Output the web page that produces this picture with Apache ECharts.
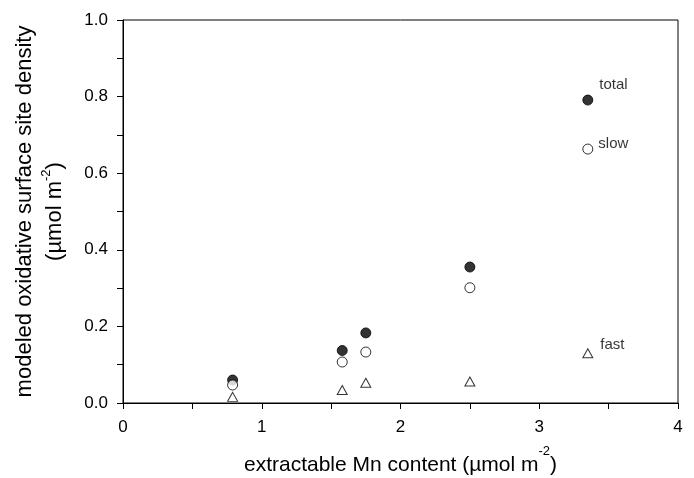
<!DOCTYPE html>
<html>
<head>
<meta charset="utf-8">
<script src="https://cdn.jsdelivr.net/npm/echarts@6/dist/echarts.min.js"></script>
<style>
  html, body { margin: 0; padding: 0; background: #fff; }
  #chart { width: 694px; height: 478px; }
</style>
</head>
<body>
<div id="chart"></div>
<script>
// extractable Mn content (umol m-2)
const mnContent = [0.79, 1.58, 1.75, 2.50, 3.35]
// modeled site densities (umol m-2)
const totalSites = [0.060, 0.137, 0.183, 0.355, 0.791]
const slowSites = [0.047, 0.107, 0.133, 0.301, 0.663]
const fastSites = [0.016, 0.034, 0.053, 0.056, 0.130]

const font = 'Liberation Sans, Arial, sans-serif'
const chart = echarts.init(document.getElementById('chart'))

const pairs = (ys) => mnContent.map((x, i) => [x, ys[i]])
const lastIdx = mnContent.length - 1

// series name shown next to the right-most point only
const endLabel = (offset) => ({
  show: true,
  position: 'right',
  offset: offset,
  color: '#000',
  fontFamily: font,
  fontSize: 15,
  formatter: (p) => p.dataIndex === lastIdx ? p.seriesName : ''
})

chart.setOption({
  animation: false,
  grid: {
    left: 123,
    right: 16,
    top: 20,
    bottom: 75,
    containLabel: false,
    outerBoundsMode: 'none',
    show: true,
    borderColor: '#000',
    borderWidth: 1
  },
  xAxis: {
    type: 'value',
    min: 0,
    max: 4,
    interval: 1,
    name: 'extractable Mn content (µmol m{sup|-2}{b|)}',
    nameLocation: 'middle',
    nameGap: 42,
    nameMoveOverlap: false,
    nameTextStyle: {
      color: '#000', fontFamily: font, fontSize: 21, lineHeight: 40,
      rich: {
        sup: { fontSize: 13, fontFamily: font, color: '#000', verticalAlign: 'top', lineHeight: 14 },
        b: { fontSize: 21, fontFamily: font, color: '#000', lineHeight: 40 }
      }
    },
    axisLine: { lineStyle: { color: '#000', width: 1 } },
    axisTick: { inside: false, length: 6, lineStyle: { color: '#000' } },
    minorTick: { show: true, splitNumber: 2, length: 6, lineStyle: { color: '#000' } },
    splitLine: { show: false },
    axisLabel: { color: '#000', fontFamily: font, fontSize: 17, margin: 16 }
  },
  yAxis: {
    type: 'value',
    min: 0,
    max: 1,
    interval: 0.2,
    name: 'modeled oxidative surface site density\n(µmol m{sup|-2}{b|)}',
    nameLocation: 'middle',
    nameRotate: 90,
    nameGap: 53,
    nameMoveOverlap: false,
    nameTextStyle: {
      color: '#000', fontFamily: font, fontSize: 22, lineHeight: 30,
      rich: {
        sup: { fontSize: 13, fontFamily: font, color: '#000', verticalAlign: 'top', lineHeight: 14 },
        b: { fontSize: 22, fontFamily: font, color: '#000', lineHeight: 30 }
      }
    },
    axisLine: { show: true, lineStyle: { color: '#000', width: 1 } },
    axisTick: { show: true, inside: false, length: 6, lineStyle: { color: '#000' } },
    minorTick: { show: true, splitNumber: 2, length: 6, lineStyle: { color: '#000' } },
    splitLine: { show: false },
    axisLabel: { color: '#000', fontFamily: font, fontSize: 17, margin: 15, formatter: (v) => v.toFixed(1) }
  },
  series: [
    {
      name: 'total',
      type: 'scatter',
      data: pairs(totalSites),
      symbol: 'circle',
      symbolSize: 10,
      itemStyle: { color: '#000', borderColor: '#000', borderWidth: 1 },
      label: endLabel([1, -15])
    },
    {
      name: 'slow',
      type: 'scatter',
      data: pairs(slowSites),
      symbol: 'circle',
      symbolSize: 10,
      itemStyle: { color: '#fff', borderColor: '#000', borderWidth: 1 },
      label: endLabel([0, -5])
    },
    {
      name: 'fast',
      type: 'scatter',
      data: pairs(fastSites),
      symbol: 'triangle',
      symbolSize: [10, 9],
      itemStyle: { color: '#fff', borderColor: '#000', borderWidth: 1 },
      label: endLabel([2, -8])
    }
  ]
})
</script>
</body>
</html>
